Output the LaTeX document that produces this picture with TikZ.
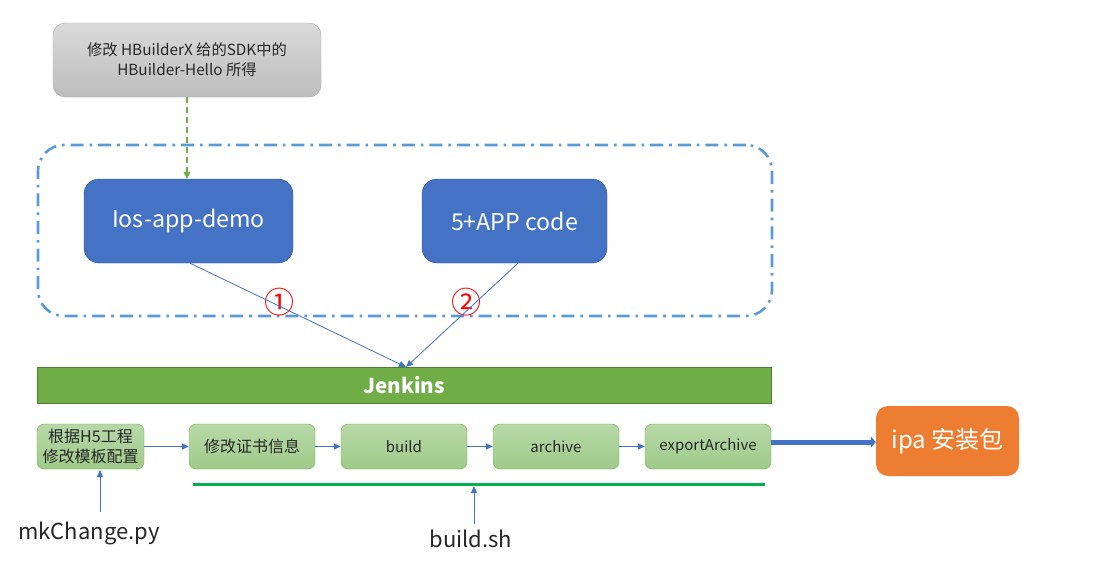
\documentclass[tikz,border=0pt]{standalone}
\usepackage{fontspec}
\setmainfont{Noto Sans CJK SC}
\usetikzlibrary{arrows.meta,calc}
\definecolor{cgrayT}{HTML}{DADADA}
\definecolor{cgrayB}{HTML}{BDBDBD}
\definecolor{cgrayL}{HTML}{A8A8A8}
\definecolor{cblue}{HTML}{4472C4}
\definecolor{cblueL}{HTML}{2F528F}
\definecolor{cdash}{HTML}{5B9BD5}
\definecolor{cgreen}{HTML}{70AD47}
\definecolor{cgreenL}{HTML}{507E32}
\definecolor{cgT}{HTML}{B7D8A9}
\definecolor{cgB}{HTML}{9FCB88}
\definecolor{cline}{HTML}{00B050}
\definecolor{corange}{HTML}{ED7D31}
\begin{document}
\begin{tikzpicture}[x=1pt,y=-1pt,
  graybox/.style={draw=cgrayL,rounded corners=12pt,top color=cgrayT,bottom color=cgrayB,
    minimum width=268pt,minimum height=74pt,align=center,
    font=\fontsize{15.3}{20}\selectfont,text=black!85},
  groupbox/.style={draw=cdash,line width=2.6pt,rounded corners=26pt,
    dash pattern=on 13pt off 6pt on 2.6pt off 6pt},
  bluebox/.style={draw=cblueL,fill=cblue,rounded corners=15pt,minimum height=84pt,
    text=white,font=\fontsize{23.2}{27}\selectfont},
  jbar/.style={draw=cgreenL,fill=cgreen,minimum width=734pt,minimum height=36pt,
    text=white,font=\fontsize{20.5}{24}\selectfont\bfseries},
  stepbox/.style={draw=cgreen,rounded corners=7pt,top color=cgT,bottom color=cgB,
    minimum height=45pt,align=center,font=\fontsize{15}{19.5}\selectfont,text=black!85},
  cjkstep/.style={font=\fontsize{16}{19.5}\selectfont},
  ipabox/.style={fill=corange,rounded corners=12pt,minimum width=143pt,minimum height=70pt,
    text=white,font=\fontsize{24}{28}\selectfont},
  lbl/.style={font=\fontsize{22}{26}\selectfont,text=black!85},
  num/.style={text=red,font=\fontsize{30}{32}\selectfont},
  conn/.style={draw=cblue,line width=0.8pt,-{Triangle[length=7pt,width=6pt]}},
]
\useasboundingbox (0,0) rectangle (1110,579);

\node[graybox] (src) at (187,60) {修改 HBuilderX 给的SDK中的\\HBuilder-Hello 所得};
\node[groupbox,minimum width=734pt,minimum height=171pt] (grp) at (405,230.5) {};
\node[bluebox,minimum width=209pt] (ios) at (188.5,221) {Ios-app-demo};
\node[bluebox,minimum width=185pt] (app) at (514.5,221) {5+APP code};
\node[jbar] (jk) at (404,385) {Jenkins};

\node[stepbox,cjkstep,minimum width=107pt] (s1) at (90.5,446.5) {根据H5工程\\修改模板配置};
\node[stepbox,cjkstep,minimum width=126pt] (s2) at (252,446.5) {修改证书信息};
\node[stepbox,minimum width=126pt] (s3) at (404,446.5) {build};
\node[stepbox,minimum width=126pt] (s4) at (556,446.5) {archive};
\node[stepbox,minimum width=126pt] (s5) at (708,446.5) {exportArchive};
\node[ipabox] (ipa) at (947.5,441) {ipa 安装包};

\node[lbl] (mk) at (89,533) {mkChange.py};
\node[lbl] (bs) at (471,539) {build.sh};

\node[num] (n1) at (279,302) {①};
\node[num] (n2) at (466,302) {②};

% dashed green arrow
\draw[draw=cgreen,line width=1.4pt,dashed,dash pattern=on 6pt off 4pt,
  -{Triangle[length=7pt,width=7pt]}] (src.south) -- (ios.north -| src.south);

% arrows into Jenkins
\coordinate (jin) at (406,367);
\draw[conn] ($(ios.south)+(1.5,0)$) -- (jin);
\draw[conn] ($(app.south)+(3.5,0)$) -- (jin);

% step arrows
\draw[conn] (s1.east) -- (s2.west);
\draw[conn] (s2.east) -- (s3.west);
\draw[conn] (s3.east) -- (s4.west);
\draw[conn] (s4.east) -- (s5.west);

% thick arrow to ipa
\draw[draw=cblue,line width=5pt,-{Triangle[length=5pt,width=11pt]}]
  ($(s5.east)+(0,-4.5)$) -- ($(ipa.west)+(0,1)$);

% green line
\coordinate (g1) at (193,484);
\coordinate (g2) at (765,484);
\draw[draw=cline,line width=3pt] (g1) -- (g2);

% script arrows
\coordinate (mkt) at (100,512);
\draw[conn] (mkt) -- (100,470);
\coordinate (bst) at (474,524);
\draw[conn] (bst) -- (474,486);
\end{tikzpicture}
\end{document}
